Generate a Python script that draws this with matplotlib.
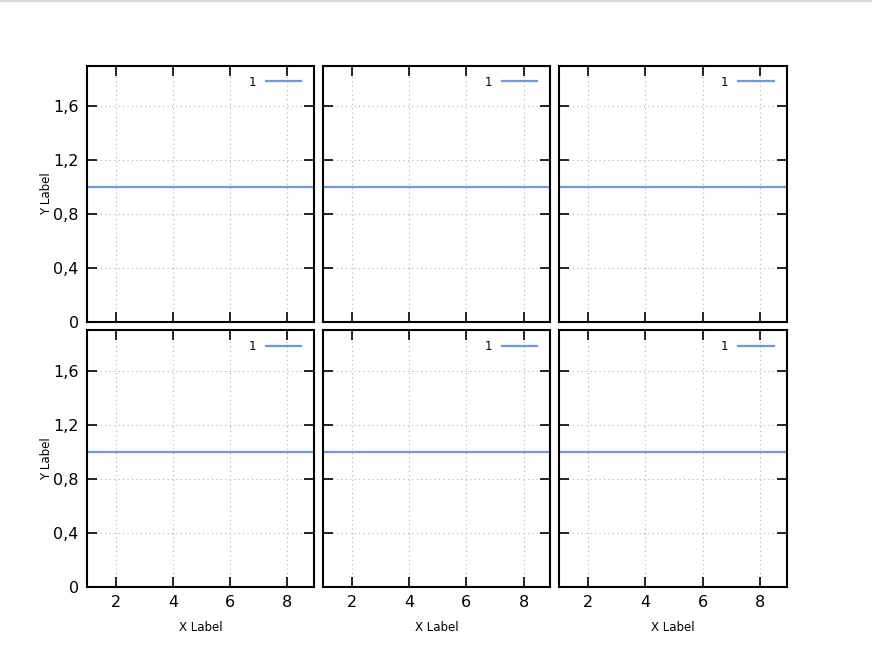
import matplotlib
matplotlib.use('Agg')
import matplotlib.pyplot as plt
from matplotlib.lines import Line2D
from matplotlib.ticker import FuncFormatter

# data: same constant series in each of the six panels
x_vals = [1.0, 8.93]
y_vals = [1.0, 1.0]
series_label = '1'
x_ticks = [2, 4, 6, 8]
y_ticks = [0, 0.4, 0.8, 1.2, 1.6]
x_label = 'X Label'
y_label = 'Y Label'

LINE_COLOR = '#6f96e6'


def comma_fmt(v, pos):
    if abs(v) < 1e-9:
        return '0'
    return ('%.1f' % v).replace('.', ',')


def main():
    plt.rcParams['font.family'] = ['DejaVu Sans']
    fig, axes = plt.subplots(2, 3, figsize=(8.72, 6.52), dpi=100)
    fig.subplots_adjust(left=87 / 872, right=786.5 / 872,
                        bottom=65 / 652, top=(652 - 65.5) / 652,
                        wspace=0.04, hspace=0.031)

    for r in range(2):
        for c in range(3):
            ax = axes[r][c]
            ax.plot(x_vals, y_vals, color=LINE_COLOR, lw=1.6, label=series_label)
            ax.set_xlim(1.0, 8.93)
            ax.set_ylim(0, 1.9)
            ax.set_xticks(x_ticks)
            ax.set_yticks(y_ticks)
            ax.yaxis.set_major_formatter(FuncFormatter(comma_fmt))
            ax.grid(True, color='#b0b0b0', linestyle=(0, (1, 3)), lw=0.8)
            ax.tick_params(direction='in', length=7, width=1.2,
                           top=True, right=True, labelsize=11.5, pad=6)
            for sp in ax.spines.values():
                sp.set_linewidth(1.5)
            if c == 0:
                ax.set_ylabel(y_label, fontsize=8.5, labelpad=0)
            else:
                ax.tick_params(labelleft=False)
            if r == 1:
                ax.set_xlabel(x_label, fontsize=8.5, labelpad=8)
            else:
                ax.tick_params(labelbottom=False)
            ax.legend(loc='upper right', bbox_to_anchor=(0.987, 1.0),
                      frameon=False, fontsize=8.5,
                      markerfirst=False, handlelength=3.0,
                      borderaxespad=0.45, handletextpad=0.8)

    fig.add_artist(Line2D([0, 1], [0.999, 0.999], transform=fig.transFigure,
                          color='#d8d8d8', lw=1.5))
    fig.savefig('out.png', dpi=100)


if __name__ == '__main__':
    main()
